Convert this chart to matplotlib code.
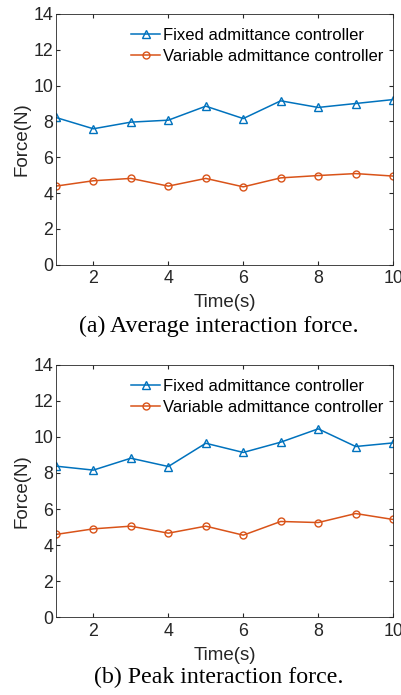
import numpy as np
import matplotlib.pyplot as plt

# Time steps (s)
t = np.arange(1, 11)

# (a) average interaction force
avg_fixed = [8.22, 7.59, 7.96, 8.07, 8.85, 8.16, 9.15, 8.78, 9.00, 9.22]
avg_variable = [4.39, 4.69, 4.82, 4.39, 4.82, 4.35, 4.85, 4.98, 5.09, 4.95]

# (b) peak interaction force
peak_fixed = [8.38, 8.16, 8.82, 8.36, 9.65, 9.14, 9.71, 10.45, 9.47, 9.67]
peak_variable = [4.59, 4.90, 5.05, 4.66, 5.05, 4.55, 5.31, 5.25, 5.75, 5.42]

labels = ['Fixed admittance controller', 'Variable admittance controller']
captions = ['(a) Average interaction force.', '(b) Peak interaction force.']
blue = '#0072BD'
orange = '#D95319'

plt.rcParams['font.family'] = ['Liberation Sans', 'DejaVu Sans']

fig = plt.figure(figsize=(4.02, 6.95), dpi=100)
ax1 = fig.add_axes([0.139, 0.619, 0.839, 0.361])
ax2 = fig.add_axes([0.139, 0.112, 0.839, 0.363])

data = [(avg_fixed, avg_variable), (peak_fixed, peak_variable)]
for ax, (fx, vr) in zip([ax1, ax2], data):
    ax.plot(t, fx, '-^', color=blue, lw=1.1, ms=5.5, mfc='none', mew=1.0, label=labels[0])
    ax.plot(t, vr, '-o', color=orange, lw=1.1, ms=5, mfc='none', mew=1.0, label=labels[1])
    ax.set_xlim(1, 10)
    ax.set_ylim(0, 14)
    ax.set_xticks([2, 4, 6, 8, 10])
    ax.set_yticks(np.arange(0, 15, 2))
    ax.tick_params(direction='in', labelsize=12.8, length=3, color='#262626', pad=2,
                   labelcolor='#262626', top=True, right=True, labeltop=False, labelright=False)
    ax.tick_params(axis='x', pad=4)
    for s in ax.spines.values():
        s.set_color('#262626')
        s.set_linewidth(0.6)
    ax.set_xlabel('Time(s)', fontsize=13.5, color='#262626', labelpad=5)
    ax.set_ylabel('Force(N)', fontsize=13.5, color='#262626', labelpad=2)
    ax.legend(loc='upper right', frameon=False, fontsize=12, handlelength=1.75,
              handletextpad=0.15, borderaxespad=0.2, labelspacing=0.4,
              bbox_to_anchor=(1.0, 0.985))

fig.text(0.545, 0.530, captions[0], ha='center', va='center', fontsize=17.2,
         family=['Liberation Serif', 'DejaVu Serif'])
fig.text(0.545, 0.025, captions[1], ha='center', va='center', fontsize=17.2,
         family=['Liberation Serif', 'DejaVu Serif'])

fig.savefig('out.png', dpi=100)
